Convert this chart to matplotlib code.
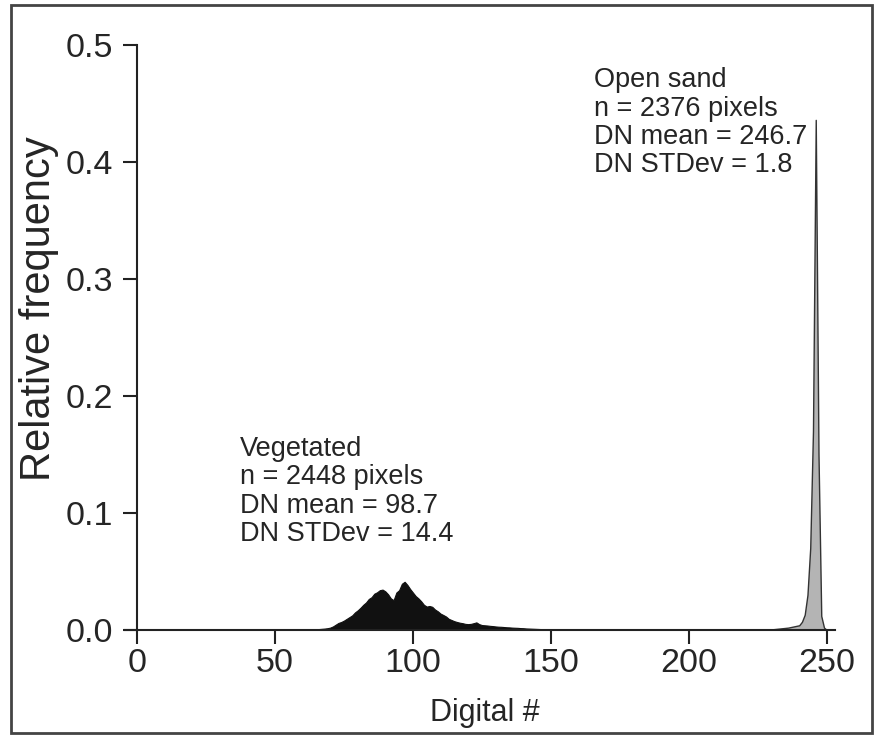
import numpy as np
import matplotlib
matplotlib.use('Agg')
import matplotlib.pyplot as plt
from matplotlib.patches import Rectangle

plt.rcParams['font.family'] = ['Liberation Sans', 'DejaVu Sans']

# Vegetated class: relative frequency per digital number
veg_dn = list(range(62, 151))
veg_freq = [0.0003, 0.0004, 0.0005, 0.0006, 0.0008, 0.0010, 0.0012, 0.0015, 0.0020, 0.0030,
            0.0045, 0.0060, 0.0068, 0.0080, 0.0095, 0.0110, 0.0125, 0.0150, 0.0168, 0.0190,
            0.0215, 0.0235, 0.0265, 0.0280, 0.0310, 0.0322, 0.0340, 0.0345, 0.0330, 0.0305,
            0.0270, 0.0255, 0.0320, 0.0340, 0.0395, 0.0412, 0.0385, 0.0350, 0.0320, 0.0290,
            0.0270, 0.0245, 0.0215, 0.0200, 0.0205, 0.0198, 0.0175, 0.0160, 0.0140, 0.0128,
            0.0115, 0.0095, 0.0085, 0.0075, 0.0068, 0.0062, 0.0058, 0.0052, 0.0050, 0.0052,
            0.0058, 0.0065, 0.0050, 0.0042, 0.0040, 0.0038, 0.0035, 0.0033, 0.0030, 0.0028,
            0.0027, 0.0025, 0.0023, 0.0022, 0.0020, 0.0019, 0.0018, 0.0016, 0.0015, 0.0013,
            0.0012, 0.0011, 0.0010, 0.0009, 0.0008, 0.0006, 0.0005, 0.0004, 0.0003]

# Open sand class
sand_dn = [230, 232, 234, 236, 238, 240, 241, 242, 243, 244, 245, 246, 247, 248, 249, 250]
sand_freq = [0.0005, 0.001, 0.0015, 0.002, 0.003, 0.004, 0.007, 0.013, 0.030, 0.070,
             0.170, 0.436, 0.150, 0.012, 0.002, 0.0]

veg_text = "Vegetated\nn = 2448 pixels\nDN mean = 98.7\nDN STDev = 14.4"
sand_text = "Open sand\nn = 2376 pixels\nDN mean = 246.7\nDN STDev = 1.8"

xticks = [0, 50, 100, 150, 200, 250]
yticks = [0.0, 0.1, 0.2, 0.3, 0.4, 0.5]

fig = plt.figure(figsize=(8.83, 7.35), dpi=100)
ax = fig.add_axes([0.1411, 0.1429, 0.8046, 0.7959])

txt = '#252525'
ax.fill_between(veg_dn, veg_freq, 0, color='#111111', lw=0.8, edgecolor='#111111')
ax.fill_between(sand_dn, sand_freq, 0, facecolor='#b4b4b4', edgecolor='#333333', lw=1.0)

ax.set_xlim(-4.5, 253)
ax.set_ylim(0, 0.5)
ax.spines['top'].set_visible(False)
ax.spines['right'].set_visible(False)
ax.spines['left'].set_position(('data', 0))
for s in ['left', 'bottom']:
    ax.spines[s].set_linewidth(1.5)
    ax.spines[s].set_color('#222222')

ax.set_xticks(xticks)
ax.set_xticklabels([str(t) for t in xticks])
ax.set_yticks(yticks)
ax.set_yticklabels(['%.1f' % t for t in yticks])
ax.tick_params(axis='both', direction='out', length=10, width=1.5, color='#222222',
               labelsize=24.5, labelcolor=txt)
ax.tick_params(axis='x', pad=3)
ax.tick_params(axis='y', pad=7)

ax.set_xlabel('Digital #', fontsize=22, color=txt)
ax.xaxis.set_label_coords(0.507, -0.117)
ax.set_ylabel('Relative frequency', fontsize=30, color=txt)
ax.yaxis.set_label_coords(-0.092, 0.55)

ax.text(37.3, 0.166, veg_text, fontsize=19.5, color=txt, va='top', ha='left', linespacing=1.12)
ax.text(165.6, 0.481, sand_text, fontsize=19.5, color=txt, va='top', ha='left', linespacing=1.12)

# outer frame
fig.patches.append(Rectangle((0.012, 0.003), 0.976, 0.99, transform=fig.transFigure,
                             fill=False, edgecolor='#444444', lw=2))

fig.savefig('out.png', dpi=100)
